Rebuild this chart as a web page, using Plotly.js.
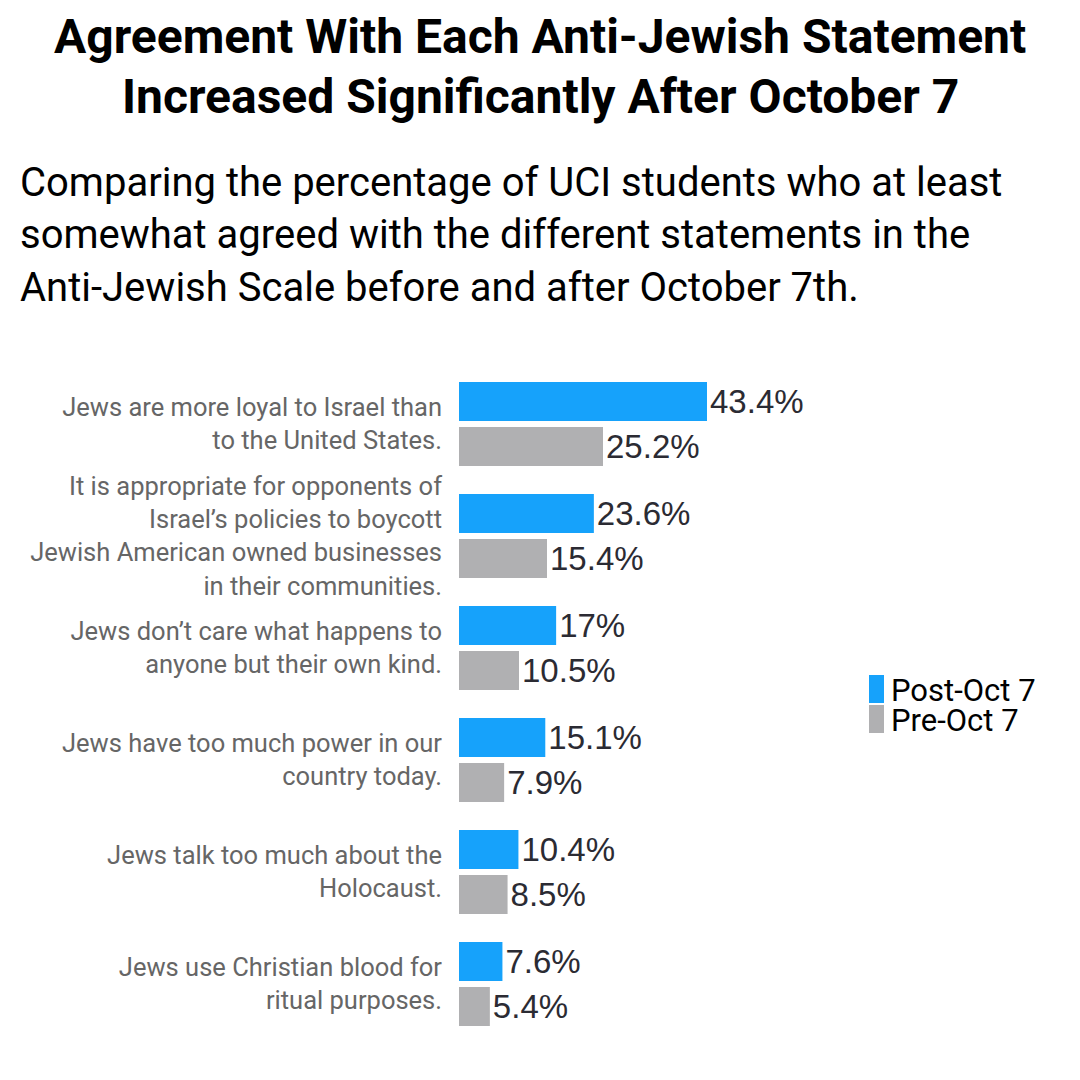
<!DOCTYPE html>
<html>
<head>
<meta charset="utf-8">
<script src="https://cdn.plot.ly/plotly-3.0.1.min.js"></script>
<style>
html,body{margin:0;padding:0;background:#fff;}
#chart{width:1080px;height:1080px;}
</style>
</head>
<body>
<div id="chart"></div>
<script>
const categories = [
  "Jews are more loyal to Israel than<br>to the United States.",
  "It is appropriate for opponents of<br>Israel’s policies to boycott<br>Jewish American owned businesses<br>in their communities.",
  "Jews don’t care what happens to<br>anyone but their own kind.",
  "Jews have too much power in our<br>country today.",
  "Jews talk too much about the<br>Holocaust.",
  "Jews use Christian blood for<br>ritual purposes."
];
const postOct7 = [43.4, 23.6, 17, 15.1, 10.4, 7.6];
const preOct7 = [25.2, 15.4, 10.5, 7.9, 8.5, 5.4];
const seriesNames = ["Post-Oct 7", "Pre-Oct 7"];
const seriesColors = ["#16a2fb", "#b0b0b2"];

const valueFont = {family: "Liberation Sans, Arial, sans-serif", size: 33, color: "#2b2b33"};

const traces = [postOct7, preOct7].map((vals, i) => ({
  type: "bar",
  orientation: "h",
  name: seriesNames[i],
  y: categories,
  x: vals,
  marker: {color: seriesColors[i]},
  text: vals.map(v => v + "%"),
  textposition: "outside",
  textfont: valueFont,
  cliponaxis: false,
  hoverinfo: "skip",
  showlegend: false
}));

const W = 400, H = 672, L = 459, T = 368;
const px = x => (x - L) / W;
const py = y => (T + H - y) / H;

const annotations = [];
function addText(text, x, y, opts) {
  annotations.push(Object.assign({
    xref: "paper", yref: "paper", x: px(x), y: py(y), text: text,
    showarrow: false, xanchor: "left", yanchor: "middle"
  }, opts));
}
const titleFont = {family: "Roboto, sans-serif", size: 48, color: "#000", weight: 700};
addText("<b>Agreement With Each Anti-Jewish Statement</b>", 540, 36, {xanchor: "center", font: titleFont});
addText("<b>Increased Significantly After October 7</b>", 540, 96, {xanchor: "center", font: titleFont});
const subFont = {family: "Roboto, sans-serif", size: 40, color: "#000"};
addText("Comparing the percentage of UCI students who at least", 18, 182, {font: subFont});
addText("somewhat agreed with the different statements in the", 18, 235, {font: subFont});
addText("Anti-Jewish Scale before and after October 7th.", 18, 287, {font: subFont});

const legFont = {family: "Roboto, sans-serif", size: 31, color: "#000"};
const shapes = [];
seriesNames.forEach((n, i) => {
  const top = 675 + i * 30;
  shapes.push({type: "rect", xref: "paper", yref: "paper",
    x0: px(869), x1: px(884), y0: py(top), y1: py(top + 28),
    fillcolor: seriesColors[i], line: {width: 0}});
  addText(n, 889, top + 15, {font: legFont});
});

const layout = {
  width: 1080, height: 1080,
  margin: {l: L, r: 1080 - L - W, t: T, b: 1080 - T - H, pad: 0},
  paper_bgcolor: "#fff", plot_bgcolor: "#fff",
  barmode: "group",
  bargap: 0.196,
  bargroupgap: 0.133,
  showlegend: false,
  xaxis: {range: [0, 70], visible: false, showgrid: false, zeroline: false, fixedrange: true},
  yaxis: {
    autorange: "reversed", type: "category",
    showgrid: false, zeroline: false, showline: false, ticks: "",
    ticklabelstandoff: 16,
    tickfont: {family: "Roboto, sans-serif", size: 25.5, color: "#666"}
  },
  annotations: annotations,
  shapes: shapes
};

Plotly.newPlot("chart", traces, layout, {staticPlot: true, displayModeBar: false});
</script>
</body>
</html>
